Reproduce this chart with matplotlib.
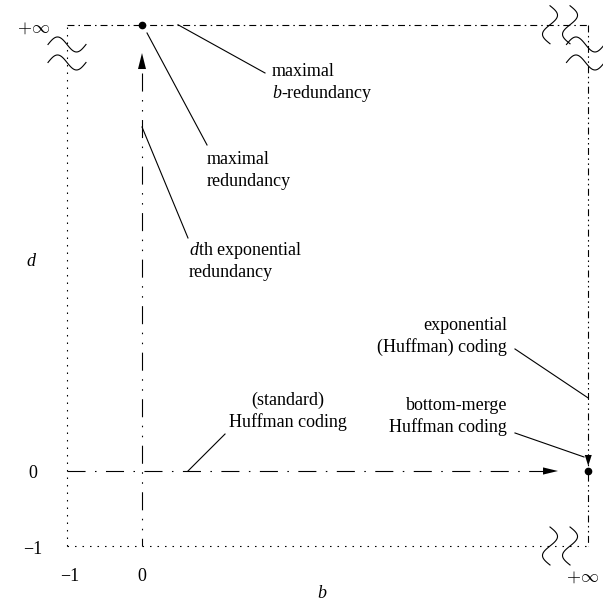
import numpy as np
import matplotlib
matplotlib.use('Agg')
import matplotlib.pyplot as plt

plt.rcParams['font.family'] = ['Liberation Serif', 'DejaVu Serif']
plt.rcParams['mathtext.fontset'] = 'custom'
plt.rcParams['mathtext.rm'] = 'Liberation Serif'
plt.rcParams['mathtext.it'] = 'Liberation Serif:italic'
plt.rcParams['lines.scale_dashes'] = False

# ---------------- content ----------------
INF = 5.95                      # where "+inf" sits on both axes (diagram units)
b_ticks = [-1, 0, INF]
b_ticklabels = ['\u22121', '0', r'$+\infty$']
d_ticks = [-1, 0, INF]
d_ticklabels = ['\u22121', '0', r'$+\infty$']
x_label = 'b'
y_label = 'd'

label_lines = [
    ['maximal', '$b$-redundancy'],
    ['maximal', 'redundancy'],
    ['$d$th exponential', 'redundancy'],
    ['(standard)', 'Huffman coding'],
    ['exponential', '(Huffman) coding'],
    ['bottom-merge', 'Huffman coding'],
]
# ---------------- layout ----------------
label_anchor = [(1.733, 5.267), (0.867, 4.093), (0.627, 2.88),
                (1.947, 0.88), (4.867, 1.88), (4.867, 0.813)]
label_ha = ['left', 'left', 'left', 'center', 'right', 'right']
LINE_STEP = 0.293
pointer_from = [(0.48, INF), (0.067, 5.84), (0.0, 4.587),
                (0.613, 0.0), (INF, 0.973), (5.893, 0.187)]
pointer_to = [(1.64, 5.307), (0.867, 4.347), (0.613, 3.107),
              (1.107, 0.493), (4.973, 1.627), (4.973, 0.507)]
b_label_shift = [0.03, 0.0, -0.07]

FS = 13
LW = 0.8
DOTTED = (0, (1.1, 4.3))
LONG_DASHDOT = (0, (13, 6.8, 1.1, 6.8))
LONG_DASHDOTDOT = (0, (13, 6.1, 1.1, 6.1, 1.1, 6.1))
SHORT_DASHDOT = (0, (5, 2.9, 1.1, 2.9))
SHORT_DASHDOTDOT = (0, (5, 2.5, 1.1, 2.5, 1.1, 2.5))

fig = plt.figure(figsize=(6.03, 6.03), dpi=100)
ax = fig.add_axes([0, 0, 1, 1])
ax.set_xlim(-142 / 75, 461 / 75)
ax.set_ylim(-132 / 75, 471 / 75)
ax.axis('off')

# frame
ax.plot([-1, -1], [-1, INF], color='k', lw=LW, linestyle=DOTTED)
ax.plot([-1, INF], [-1, -1], color='k', lw=LW, linestyle=DOTTED)
ax.plot([-1, INF], [INF, INF], color='k', lw=LW, linestyle=SHORT_DASHDOT)
ax.plot([INF, INF], [INF, -1], color='k', lw=LW, linestyle=SHORT_DASHDOTDOT)

# axes lines with arrows
ax.plot([0, 0], [5.307, -1], color='k', lw=LW, linestyle=LONG_DASHDOTDOT)
ax.plot([-1, 5.347], [0, 0], color='k', lw=LW, linestyle=LONG_DASHDOT)


def arrowhead(tip, direction, length_px, half_px):
    T = ax.transData
    tx, ty = T.transform(tip)
    dx, dy = direction
    bx, by = tx - dx * length_px, ty - dy * length_px
    nx, ny = -dy, dx
    verts = np.array([(tx, ty), (bx + nx * half_px, by + ny * half_px),
                      (bx - nx * half_px, by - ny * half_px)])
    data = T.inverted().transform(verts)
    ax.fill(data[:, 0], data[:, 1], color='k', lw=0)


arrowhead((0, 5.573), (0, 1), 16, 4)
arrowhead((5.547, 0), (1, 0), 15, 3.6)
arrowhead((INF, 0.067), (0, -1), 11, 3.5)

ax.plot([0], [INF], 'o', color='k', ms=4.5)
ax.plot([INF], [0], 'o', color='k', ms=4.5)


# squiggles (break marks)
def squiggle(center, vertical, length_px=38, amp_px=7.5):
    T = ax.transData
    cx, cy = T.transform(center)
    t = np.linspace(0, 1, 80)
    if vertical:
        xs = cx + amp_px * np.sin(2 * np.pi * t)
        ys = cy + (0.5 - t) * length_px
    else:
        xs = cx + (t - 0.5) * length_px
        ys = cy + amp_px * np.sin(2 * np.pi * t)
    data = T.inverted().transform(np.column_stack([xs, ys]))
    ax.plot(data[:, 0], data[:, 1], color='k', lw=LW)


for dc in (5.687, 5.447):
    squiggle((-1, dc), False)
    squiggle((5.913, dc), False)
for bc in (5.44, 5.707):
    squiggle((bc, INF), True)
    squiggle((bc, -1), True)

# pointers and labels
for lines, (ax0, ay0), ha, p0, p1 in zip(label_lines, label_anchor, label_ha,
                                          pointer_from, pointer_to):
    ax.plot([p0[0], p1[0]], [p0[1], p1[1]], color='k', lw=LW)
    for i, s in enumerate(lines):
        ax.text(ax0, ay0 - i * LINE_STEP, s, ha=ha, va='baseline', fontsize=FS)

# tick labels
for v, s, sh in zip(b_ticks, b_ticklabels, b_label_shift):
    ax.text(v + sh, -1.413, s, ha='center', va='center',
            fontsize=FS, math_fontfamily='cm')
for v, s in zip(d_ticks, d_ticklabels):
    ax.text(-1.453, v - 0.04, s, ha='center', va='center', fontsize=FS,
            math_fontfamily='cm')
ax.text(2.4, -1.627, x_label, ha='center', va='center', fontsize=FS, style='italic')
ax.text(-1.48, 2.8, y_label, ha='center', va='center', fontsize=FS, style='italic')

fig.savefig('out.png', dpi=100)
